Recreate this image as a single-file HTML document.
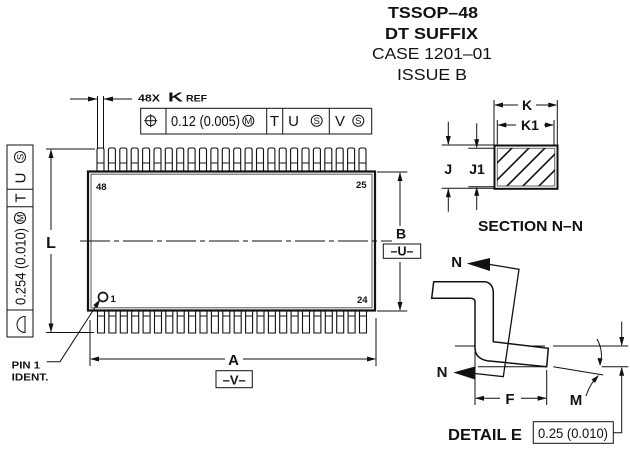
<!DOCTYPE html>
<html><head><meta charset="utf-8"><style>
html,body{margin:0;padding:0;background:#fff;}
svg{display:block;}
text{font-family:"Liberation Sans",Arial,sans-serif;fill:#111;}
.b{font-weight:bold;}
</style></head><body>
<svg width="630" height="449" viewBox="0 0 630 449" xmlns="http://www.w3.org/2000/svg">
<defs>
<g id="tp"><path d="M0,23.5 V2 Q0,0 2,0 H5 Q7,0 7,2 V23.5 M0,15 H7" fill="#fff" stroke="#111" stroke-width="1.1"/></g>
<g id="bp"><path d="M0,0 V23 H7 V0 M0,6 H7" fill="#fff" stroke="#111" stroke-width="1.1"/></g>
<clipPath id="hc"><rect x="497" y="148" width="58" height="38"/></clipPath>
</defs>

<!-- Title -->
<text class="b" x="388" y="18" font-size="16" textLength="90" lengthAdjust="spacingAndGlyphs">TSSOP–48</text>
<text class="b" x="385" y="39" font-size="16" textLength="93" lengthAdjust="spacingAndGlyphs">DT SUFFIX</text>
<text x="372" y="59" font-size="16" textLength="120" lengthAdjust="spacingAndGlyphs">CASE 1201–01</text>
<text x="397" y="80" font-size="16" textLength="70" lengthAdjust="spacingAndGlyphs">ISSUE B</text>

<!-- K dimension top -->
<g stroke="#111" stroke-width="1" fill="none">
<line x1="97.5" y1="96" x2="97.5" y2="148"/>
<line x1="103.5" y1="96" x2="103.5" y2="148"/>
<line x1="70" y1="99" x2="97" y2="99"/>
<line x1="104" y1="99" x2="132" y2="99"/>
</g>
<polygon points="97.5,99 88,96.5 88,101.5" fill="#111"/>
<polygon points="103.5,99 113,96.5 113,101.5" fill="#111"/>
<text class="b" x="138" y="101.5" font-size="10" textLength="22" lengthAdjust="spacingAndGlyphs">48X</text>
<text class="b" x="168" y="101.5" font-size="13" textLength="15" lengthAdjust="spacingAndGlyphs">K</text>
<text class="b" x="186" y="101.5" font-size="9.5" textLength="21" lengthAdjust="spacingAndGlyphs">REF</text>

<!-- Feature control frame top -->
<g stroke="#111" stroke-width="1" fill="none">
<rect x="140.7" y="108.3" width="231" height="25.7"/>
<line x1="166" y1="108.3" x2="166" y2="134"/>
<line x1="266.7" y1="108.3" x2="266.7" y2="134"/>
<line x1="282.7" y1="108.3" x2="282.7" y2="134"/>
<line x1="329.3" y1="108.3" x2="329.3" y2="134"/>
<circle cx="150.7" cy="120.7" r="5"/>
<line x1="144.2" y1="120.7" x2="157.2" y2="120.7"/>
<line x1="150.7" y1="114.2" x2="150.7" y2="127.2"/>
<circle cx="248.3" cy="120.7" r="5.5"/>
<circle cx="316.7" cy="120.7" r="5.5"/>
<circle cx="358.3" cy="120.7" r="5.5"/>
</g>
<text x="171" y="126" font-size="15" textLength="69" lengthAdjust="spacingAndGlyphs">0.12 (0.005)</text>
<text x="248.3" y="124" font-size="9.5" text-anchor="middle">M</text>
<text x="274.5" y="126" font-size="15" text-anchor="middle">T</text>
<text x="293.5" y="126" font-size="15" text-anchor="middle">U</text>
<text x="316.7" y="124" font-size="9.5" text-anchor="middle">S</text>
<text x="340" y="126" font-size="15" text-anchor="middle">V</text>
<text x="358.3" y="124" font-size="9.5" text-anchor="middle">S</text>

<!-- Left vertical frame -->
<g stroke="#111" stroke-width="1" fill="none">
<rect x="7" y="145" width="26" height="192"/>
<line x1="7" y1="189.3" x2="33" y2="189.3"/>
<line x1="7" y1="206.7" x2="33" y2="206.7"/>
<line x1="7" y1="310" x2="33" y2="310"/>
<circle cx="20" cy="218" r="5.5"/>
<circle cx="20" cy="157" r="5.5"/>
<path d="M25,316.5 A8,8 0 0 0 25,332.5 Z"/>
</g>
<text transform="translate(25.5,305) rotate(-90)" font-size="15" textLength="77" lengthAdjust="spacingAndGlyphs">0.254 (0.010)</text>
<text transform="translate(23.3,218) rotate(-90)" font-size="9.5" text-anchor="middle">M</text>
<text transform="translate(25.5,198) rotate(-90)" font-size="15" text-anchor="middle">T</text>
<text transform="translate(25.5,178) rotate(-90)" font-size="15" text-anchor="middle">U</text>
<text transform="translate(23.3,157) rotate(-90)" font-size="9.5" text-anchor="middle">S</text>

<!-- L dimension -->
<g stroke="#111" stroke-width="1" fill="none">
<line x1="46" y1="149" x2="95" y2="149"/>
<line x1="46" y1="332.5" x2="94" y2="332.5"/>
<line x1="51" y1="150" x2="51" y2="230"/>
<line x1="51" y1="254" x2="51" y2="332"/>
</g>
<polygon points="51,149 48.5,158 53.5,158" fill="#111"/>
<polygon points="51,332.5 48.5,323.5 53.5,323.5" fill="#111"/>
<text class="b" x="51" y="248" font-size="16" text-anchor="middle">L</text>

<!-- Pins top -->
<g transform="translate(0,148)">
<use href="#tp" x="97"/><use href="#tp" x="108.4"/><use href="#tp" x="119.8"/><use href="#tp" x="131.2"/>
<use href="#tp" x="142.6"/><use href="#tp" x="154"/><use href="#tp" x="165.3"/><use href="#tp" x="176.7"/>
<use href="#tp" x="188.1"/><use href="#tp" x="199.5"/><use href="#tp" x="210.9"/><use href="#tp" x="222.3"/>
<use href="#tp" x="233.7"/><use href="#tp" x="245.1"/><use href="#tp" x="256.5"/><use href="#tp" x="267.9"/>
<use href="#tp" x="279.2"/><use href="#tp" x="290.6"/><use href="#tp" x="302"/><use href="#tp" x="313.4"/>
<use href="#tp" x="324.8"/><use href="#tp" x="336.2"/><use href="#tp" x="347.6"/><use href="#tp" x="359"/>
</g>
<!-- Pins bottom -->
<g transform="translate(0,310)">
<use href="#bp" x="97.5"/><use href="#bp" x="108.9"/><use href="#bp" x="120.3"/><use href="#bp" x="131.7"/>
<use href="#bp" x="143.1"/><use href="#bp" x="154.5"/><use href="#bp" x="165.8"/><use href="#bp" x="177.2"/>
<use href="#bp" x="188.6"/><use href="#bp" x="200"/><use href="#bp" x="211.4"/><use href="#bp" x="222.8"/>
<use href="#bp" x="234.2"/><use href="#bp" x="245.6"/><use href="#bp" x="257"/><use href="#bp" x="268.4"/>
<use href="#bp" x="279.7"/><use href="#bp" x="291.1"/><use href="#bp" x="302.5"/><use href="#bp" x="313.9"/>
<use href="#bp" x="325.3"/><use href="#bp" x="336.7"/><use href="#bp" x="348.1"/><use href="#bp" x="359.5"/>
</g>

<!-- Body -->
<rect x="88" y="171.5" width="287" height="139" fill="#fff" stroke="#111" stroke-width="2.2"/>
<rect x="91" y="174.2" width="281" height="133.6" fill="none" stroke="#555" stroke-width="1"/>
<line x1="80" y1="241" x2="392" y2="241" stroke="#111" stroke-width="1" stroke-dasharray="30,4,5,4"/>

<text class="b" x="96" y="190" font-size="9.5">48</text>
<text class="b" x="356" y="188" font-size="9.5">25</text>
<text class="b" x="357" y="303" font-size="9.5">24</text>
<text class="b" x="110.5" y="302" font-size="9.5">1</text>
<circle cx="103" cy="297" r="4.5" fill="none" stroke="#111" stroke-width="1.7"/>

<!-- Pin 1 leader -->
<polyline points="99.5,300.5 60,361.7 46.7,361.7" fill="none" stroke="#111" stroke-width="1"/>
<polygon points="100.5,299 93.2,305.2 97.4,308" fill="#111"/>
<text class="b" x="11.7" y="368.3" font-size="10" textLength="28.3" lengthAdjust="spacingAndGlyphs">PIN 1</text>
<text class="b" x="11.7" y="380.7" font-size="10" textLength="36.6" lengthAdjust="spacingAndGlyphs">IDENT.</text>

<!-- A dimension -->
<g stroke="#111" stroke-width="1" fill="none">
<line x1="90" y1="320" x2="90" y2="366"/>
<line x1="376" y1="318" x2="376" y2="366"/>
<line x1="91" y1="359" x2="225" y2="359"/>
<line x1="243" y1="359" x2="375" y2="359"/>
<rect x="216" y="370.7" width="36.3" height="17"/>
</g>
<polygon points="90,359 99,356.5 99,361.5" fill="#111"/>
<polygon points="376,359 367,356.5 367,361.5" fill="#111"/>
<text class="b" x="233.5" y="365" font-size="15" text-anchor="middle">A</text>
<text class="b" x="234.2" y="384.5" font-size="13" text-anchor="middle">–V–</text>

<!-- B dimension -->
<g stroke="#111" stroke-width="1" fill="none">
<line x1="377" y1="172" x2="407.3" y2="172"/>
<line x1="377" y1="311" x2="407.3" y2="311"/>
<line x1="400" y1="173" x2="400" y2="226"/>
<line x1="400" y1="262" x2="400" y2="310"/>
<rect x="383.3" y="244" width="37.4" height="14.3"/>
</g>
<polygon points="400,172 397.5,181 402.5,181" fill="#111"/>
<polygon points="400,311 397.5,302 402.5,302" fill="#111"/>
<text class="b" x="401" y="238.5" font-size="14" text-anchor="middle">B</text>
<text class="b" x="402" y="255.5" font-size="12.5" text-anchor="middle">–U–</text>

<!-- Section N-N -->
<g stroke="#111" stroke-width="1" fill="none">
<line x1="494" y1="100" x2="494" y2="145"/>
<line x1="557.3" y1="100" x2="557.3" y2="145"/>
<line x1="497.3" y1="120" x2="497.3" y2="148"/>
<line x1="554" y1="120" x2="554" y2="148"/>
<line x1="495" y1="105" x2="518" y2="105"/>
<line x1="536" y1="105" x2="556" y2="105"/>
<line x1="498" y1="125" x2="516" y2="125"/>
<line x1="544" y1="125" x2="553" y2="125"/>
<line x1="441.7" y1="145" x2="494" y2="145"/>
<line x1="441.7" y1="188.3" x2="494" y2="188.3"/>
<line x1="468.3" y1="148.3" x2="494" y2="148.3"/>
<line x1="468.3" y1="186.7" x2="494" y2="186.7"/>
<line x1="448.3" y1="121.7" x2="448.3" y2="144"/>
<line x1="448.3" y1="189" x2="448.3" y2="211.7"/>
<line x1="476.7" y1="123.3" x2="476.7" y2="147"/>
<line x1="476.7" y1="187.5" x2="476.7" y2="210"/>
</g>
<polygon points="494,105 503,102.5 503,107.5" fill="#111"/>
<polygon points="557.3,105 548.3,102.5 548.3,107.5" fill="#111"/>
<polygon points="497.3,125 506.3,122.5 506.3,127.5" fill="#111"/>
<polygon points="554,125 545,122.5 545,127.5" fill="#111"/>
<polygon points="448.3,145 445.8,136 450.8,136" fill="#111"/>
<polygon points="448.3,188.3 445.8,197.3 450.8,197.3" fill="#111"/>
<polygon points="476.7,148.3 474.2,139.3 479.2,139.3" fill="#111"/>
<polygon points="476.7,186.7 474.2,195.7 479.2,195.7" fill="#111"/>
<text class="b" x="527" y="110" font-size="14" text-anchor="middle">K</text>
<text class="b" x="530" y="130" font-size="14" text-anchor="middle">K1</text>
<text class="b" x="448.3" y="174" font-size="14" text-anchor="middle">J</text>
<text class="b" x="477" y="174" font-size="14" text-anchor="middle">J1</text>
<rect x="494.5" y="145.5" width="63" height="43.3" fill="#fff" stroke="#111" stroke-width="2"/>
<rect x="497.3" y="148.3" width="57.4" height="37.7" fill="none" stroke="#666" stroke-width="1"/>
<g clip-path="url(#hc)" stroke="#111" stroke-width="1.6">
<line x1="490" y1="170" x2="530" y2="130"/>
<line x1="490" y1="187" x2="547" y2="130"/>
<line x1="490" y1="203" x2="563" y2="130"/>
<line x1="490" y1="219" x2="579" y2="130"/>
<line x1="490" y1="235" x2="595" y2="130"/>
</g>
<text class="b" x="478" y="231" font-size="15" textLength="105" lengthAdjust="spacingAndGlyphs">SECTION N–N</text>

<!-- Detail E -->
<g stroke="#111" stroke-width="1" fill="none">
<line x1="455" y1="346" x2="545" y2="346"/>
<line x1="553" y1="346" x2="628.3" y2="346"/>
<line x1="478" y1="366.7" x2="547" y2="366.7"/>
<line x1="601.7" y1="366.7" x2="628.3" y2="366.7"/>
<line x1="553.3" y1="366.7" x2="603.3" y2="375"/>
</g>
<path d="M433.7,281.7 H485 Q493.3,283 493.3,293.3 V341.7 L548.3,348.3 L546.7,366.7 L486.7,360.7 Q475,358 475,348 V301.7 Q475,298.3 470,298.3 H431.7 Z" fill="#fff" stroke="#111" stroke-width="1.5"/>
<polyline points="490,264.5 519,269.3 503.3,376.7 475,373.5" fill="none" stroke="#111" stroke-width="1.3"/>
<polygon points="466.7,263.5 490,258 490,271" fill="#111"/>
<polygon points="453.3,372.5 475,366.5 475,379.5" fill="#111"/>
<text class="b" x="456.7" y="267" font-size="15" text-anchor="middle">N</text>
<text class="b" x="442" y="377" font-size="15" text-anchor="middle">N</text>

<!-- F -->
<g stroke="#111" stroke-width="1" fill="none">
<line x1="475" y1="352" x2="475" y2="405"/>
<line x1="546.7" y1="370" x2="546.7" y2="405"/>
<line x1="476" y1="398.3" x2="500" y2="398.3"/>
<line x1="521" y1="398.3" x2="546" y2="398.3"/>
</g>
<polygon points="475,398.3 484,395.8 484,400.8" fill="#111"/>
<polygon points="546.7,398.3 537.7,395.8 537.7,400.8" fill="#111"/>
<text class="b" x="510" y="404" font-size="15" text-anchor="middle">F</text>

<!-- angle + M -->
<path d="M597,339 Q604,352 600,365" fill="none" stroke="#111" stroke-width="1"/>
<polygon points="600,366 597.5,358 602.5,358.5" fill="#111"/>
<path d="M586,396 Q590,384 597,377" fill="none" stroke="#111" stroke-width="1"/>
<polygon points="599,375 591.5,379.5 595,383" fill="#111"/>
<text class="b" x="576" y="405" font-size="15" text-anchor="middle">M</text>

<!-- right dimension 0.25 -->
<g stroke="#111" stroke-width="1" fill="none">
<line x1="621.7" y1="321.7" x2="621.7" y2="345"/>
<polyline points="621.7,368 621.7,432.7 613.3,432.7"/>
<rect x="533.3" y="421.7" width="80" height="21.6"/>
</g>
<polygon points="621.7,346 619.2,337 624.2,337" fill="#111"/>
<polygon points="621.7,366.7 619.2,375.7 624.2,375.7" fill="#111"/>
<text x="538" y="438" font-size="14" textLength="70" lengthAdjust="spacingAndGlyphs">0.25 (0.010)</text>
<text class="b" x="448" y="440" font-size="16" textLength="74" lengthAdjust="spacingAndGlyphs">DETAIL E</text>
</svg>
</body></html>
